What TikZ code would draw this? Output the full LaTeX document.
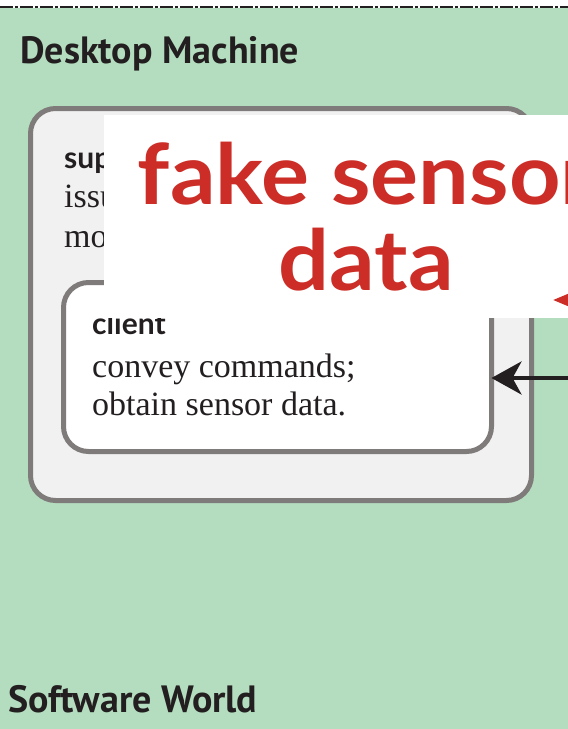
\documentclass[tikz,border=0pt]{standalone}
\usepackage{fontspec}
\setmainfont{Liberation Serif}
\newfontfamily\titlefont{PT Sans}
\newfontfamily\labelfont{Lato}
\usetikzlibrary{arrows.meta}

\definecolor{worldgreen}{HTML}{B4DDBF}
\definecolor{boxgray}{HTML}{807B7B}
\definecolor{panelgray}{HTML}{F1F1F1}
\definecolor{inkdark}{HTML}{231F20}
\definecolor{alertred}{HTML}{CC2E27}

\tikzset{
  panel/.style={draw=boxgray, line width=5pt, rounded corners=25pt,
    inner sep=0pt, outer sep=0pt},
  areatitle/.style={anchor=base west, inner sep=0pt, text=inkdark,
    font=\titlefont\bfseries\fontsize{38}{42}\selectfont},
  rolename/.style={anchor=base west, inner sep=0pt, text=inkdark,
    font=\labelfont\bfseries\fontsize{30}{34}\selectfont},
  roletext/.style={anchor=base west, inner sep=0pt, text=inkdark,
    font=\fontsize{34}{38}\selectfont},
  callouttext/.style={text=alertred, align=center, inner sep=0pt,
    font=\labelfont\bfseries\fontsize{84}{92}\selectfont},
}

\begin{document}
\begin{tikzpicture}[x=1pt, y=-1pt]
  \useasboundingbox (0,0) rectangle (568,729);
  \clip (0,0) rectangle (568,729);

  % background: the software world region
  \fill[white] (0,0) rectangle (568,8);
  \fill[worldgreen] (0,8) rectangle (568,729);
  \coordinate (edgeL) at (0,7);
  \coordinate (edgeR) at (568,7);
  \draw[inkdark, line width=2.2pt, dash pattern=on 13pt off 2pt on 3pt off 2pt]
    (edgeL) -- (edgeR);

  \node[areatitle] (desktoplabel) at (20,63) {Desktop Machine};
  \node[areatitle] (worldlabel) at (8,712) {Software World};

  % desktop machine: supervisor and its client
  \node[panel, fill=panelgray, minimum width=501pt, minimum height=392pt]
    (supervisor) at (281,304.5) {};
  \node[rolename] (supname) at (64,168) {sup};
  \node[roletext] (supline1) at (64,207) {issu};
  \node[roletext] (supline2) at (64,247) {mo};

  \node[panel, fill=white, minimum width=428pt, minimum height=169pt]
    (client) at (277.5,367) {};
  \node[rolename] (clientname) at (92,334) {client};
  \node[roletext] (clientline1) at (92,377) {convey commands;};
  \node[roletext] (clientline2) at (92,415) {obtain sensor data.};

  % incoming data to the client
  \coordinate (datain) at (570,378);
  \coordinate (clientport) at (client.east |- datain);
  \draw[inkdark, line width=4pt,
    -{Stealth[length=30pt, width=33pt, inset=9pt]}]
    (datain) -- (clientport);

  % callout
  \node[fill=white, inner sep=0pt, minimum width=500pt, minimum height=203pt,
    anchor=north west] (callout) at (104,115) {};
  \node[callouttext] (callouttitle) at (366,217)
    {\scalebox{1.07}[1]{fake sensor}\\[-6pt]\scalebox{1.07}[1]{data}};
  \coordinate (calloutsrc) at (600,300);
  \coordinate (callouttip) at (553,300);
  \draw[alertred, line width=3pt,
    -{Triangle[length=18pt, width=14pt]}] (calloutsrc) -- (callouttip);
\end{tikzpicture}
\end{document}
